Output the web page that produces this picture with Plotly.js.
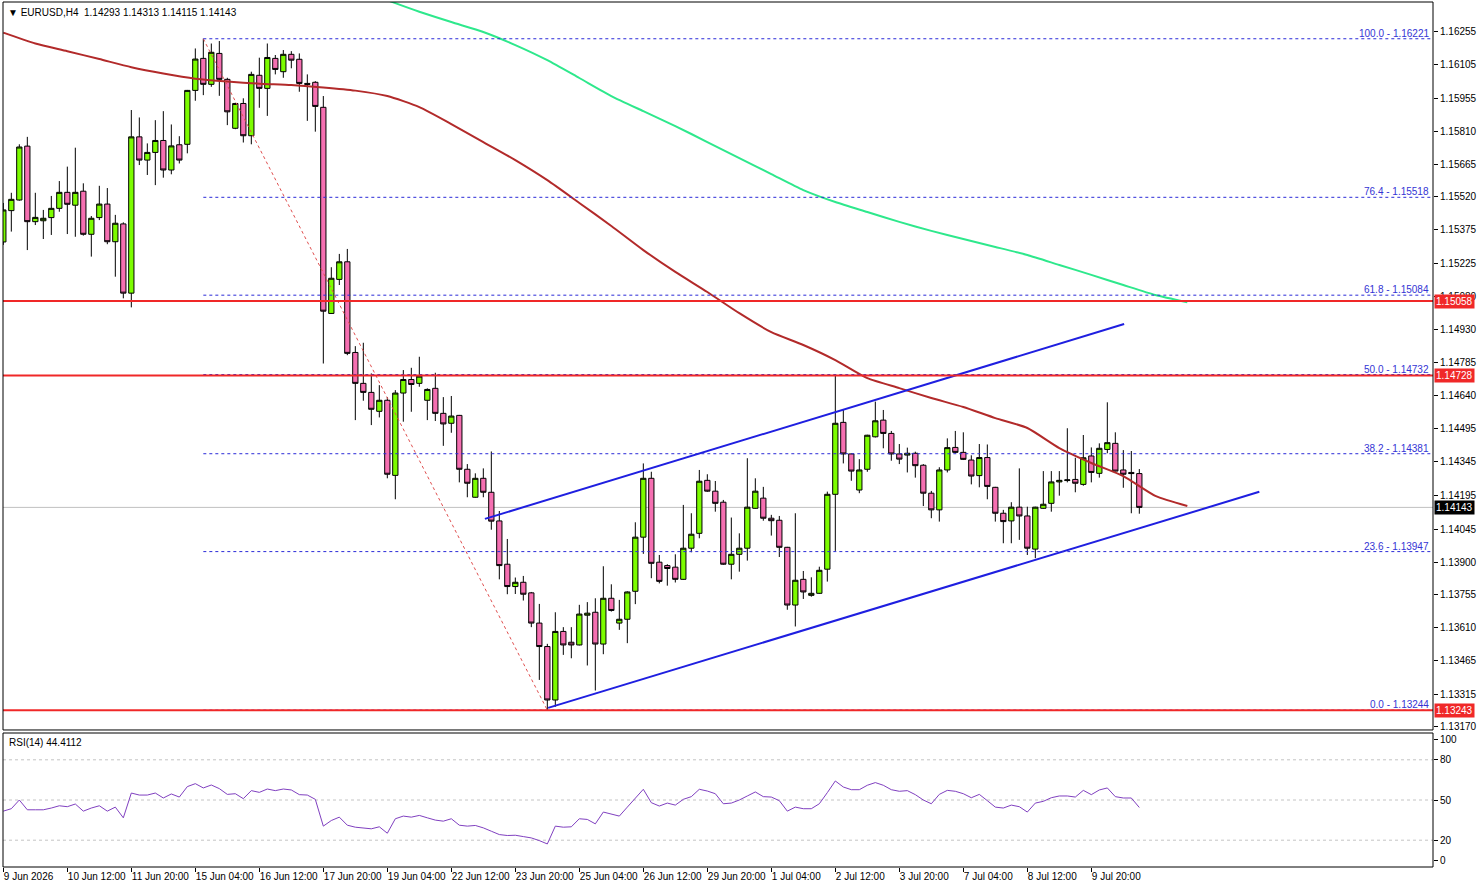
<!DOCTYPE html>
<html><head><meta charset="utf-8">
<script src="https://cdn.plot.ly/plotly-3.0.1.min.js"></script>
<style>html,body{margin:0;padding:0;background:#fff;}#chart{width:1479px;height:888px;}</style>
</head><body><div id="chart"></div>
<script>
// ---------- DATA ----------
const symbolName = "EURUSD,H4";
const lastBarOHLC = ["1.14293", "1.14313", "1.14115", "1.14143"];
const rsiName = "RSI(14)";
const rsiLast = "44.4112";

const timeLabels = ["9 Jun 2026","10 Jun 12:00","11 Jun 20:00","15 Jun 04:00","16 Jun 12:00","17 Jun 20:00",
  "19 Jun 04:00","22 Jun 12:00","23 Jun 20:00","25 Jun 04:00","26 Jun 12:00","29 Jun 20:00",
  "1 Jul 04:00","2 Jul 12:00","3 Jul 20:00","7 Jul 04:00","8 Jul 12:00","9 Jul 20:00"];

const priceTickLabels = ["1.16255","1.16105","1.15955","1.15810","1.15665","1.15520","1.15375","1.15225",
  "1.15080","1.14930","1.14785","1.14640","1.14495","1.14345","1.14195","1.14045","1.13900","1.13755",
  "1.13610","1.13465","1.13315","1.13170"];

const rsiTickLabels = ["0","20","50","80","100"];
const rsiLevels = [20, 50, 80];

const open = [
1.15320,1.15459,1.15506,1.15745,1.15410,1.15414,1.15428,1.15469,1.15540,1.15483,
1.15545,1.15354,1.15428,1.15488,1.15321,1.15400,1.15093,1.15786,1.15683,1.15717,
1.15770,1.15639,1.15751,1.15753,1.15992,1.16134,1.16019,1.16156,1.16041,1.15824,
1.15934,1.15791,1.16059,1.16001,1.16134,1.16075,1.16152,1.16130,1.16023,1.16028,
1.15917,1.15003,1.15154,1.15232,1.14830,1.14693,1.14653,1.14569,1.14618,1.14285,
1.14650,1.14710,1.14693,1.14618,1.14671,1.14560,1.14516,1.14551,1.14312,1.14188,
1.14272,1.14210,1.14083,1.13891,1.13792,1.13811,1.13764,1.13630,1.13526,1.13289,
1.13593,1.13545,1.13533,1.13665,1.13678,1.13537,1.13740,1.13630,1.13647,1.13771,
1.14011,1.14272,1.13900,1.13885,1.13878,1.13824,1.13962,1.14028,1.14263,1.14215,
1.14166,1.13891,1.13935,1.13962,1.14139,1.14184,1.14095,1.14086,1.13966,1.13710,
1.13824,1.13753,1.13762,1.13869,1.14201,1.14520,1.14380,1.14220,1.14312,1.14456,
1.14530,1.14471,1.14380,1.14375,1.14383,1.14330,1.14206,1.14132,1.14309,1.14409,
1.14387,1.14353,1.14284,1.14364,1.14232,1.14117,1.14083,1.14144,1.14105,1.13958,
1.14139,1.14161,1.14256,1.14262,1.14267,1.14245,1.14371,1.14294,1.14400,1.14427,
1.14309,1.14298,1.14293];

const high = [
1.15493,1.15538,1.15753,1.15786,1.15538,1.15462,1.15524,1.15590,1.15654,1.15738,
1.15580,1.15435,1.15569,1.15559,1.15440,1.15407,1.15905,1.15872,1.15757,1.15860,
1.15900,1.15841,1.15789,1.15994,1.16178,1.16221,1.16200,1.16211,1.16048,1.15937,
1.15957,1.16075,1.16137,1.16200,1.16149,1.16171,1.16166,1.16156,1.16063,1.16033,
1.15967,1.15208,1.15267,1.15289,1.14858,1.14873,1.14737,1.14685,1.14632,1.14663,
1.14752,1.14762,1.14811,1.14671,1.14740,1.14632,1.14637,1.14553,1.14335,1.14294,
1.14316,1.14391,1.14127,1.14003,1.13832,1.13839,1.13768,1.13715,1.13538,1.13678,
1.13612,1.13612,1.13711,1.13723,1.13740,1.13882,1.13802,1.13733,1.13771,1.14077,
1.14338,1.14301,1.13932,1.13891,1.13935,1.14154,1.14117,1.14309,1.14290,1.14260,
1.14176,1.14098,1.14028,1.14361,1.14272,1.14234,1.14110,1.14105,1.13968,1.14117,
1.13861,1.13833,1.13880,1.14213,1.14730,1.14575,1.14382,1.14357,1.14465,1.14612,
1.14575,1.14482,1.14424,1.14408,1.14390,1.14335,1.14216,1.14321,1.14449,1.14482,
1.14476,1.14374,1.14424,1.14422,1.14234,1.14132,1.14166,1.14316,1.14146,1.14146,
1.14304,1.14304,1.14304,1.14494,1.14363,1.14464,1.14409,1.14427,1.14609,1.14476,
1.14397,1.14393,1.14313];

const low = [
1.15307,1.15366,1.15503,1.15284,1.15395,1.15333,1.15351,1.15454,1.15355,1.15343,
1.15348,1.15255,1.15417,1.15310,1.15166,1.15070,1.15030,1.15661,1.15617,1.15572,
1.15605,1.15620,1.15668,1.15713,1.15946,1.15971,1.16008,1.15968,1.15838,1.15820,
1.15761,1.15753,1.15915,1.15879,1.16063,1.16048,1.16090,1.15986,1.15857,1.15809,
1.14781,1.15001,1.15129,1.14818,1.14530,1.14616,1.14508,1.14542,1.14272,1.14179,
1.14523,1.14567,1.14678,1.14530,1.14526,1.14416,1.14474,1.14254,1.14188,1.14186,
1.14188,1.14044,1.13824,1.13758,1.13759,1.13730,1.13612,1.13378,1.13244,1.13259,
1.13489,1.13474,1.13531,1.13442,1.13331,1.13492,1.13681,1.13600,1.13541,1.13714,
1.13937,1.13829,1.13806,1.13796,1.13810,1.13822,1.13944,1.14006,1.14212,1.14124,
1.13888,1.13824,1.13858,1.13907,1.14137,1.14084,1.14018,1.13923,1.13689,1.13615,
1.13737,1.13747,1.13760,1.13814,1.13950,1.14338,1.14261,1.14206,1.14301,1.14453,
1.14405,1.14350,1.14335,1.14298,1.14275,1.14149,1.14095,1.14080,1.14298,1.14383,
1.14353,1.14245,1.14232,1.14179,1.14080,1.13984,1.13984,1.13999,1.13932,1.13918,
1.14137,1.14124,1.14195,1.14254,1.14210,1.14239,1.14254,1.14275,1.14383,1.14302,
1.14230,1.14117,1.14115];

const close = [
1.15462,1.15509,1.15741,1.15410,1.15429,1.15425,1.15469,1.15540,1.15487,1.15540,
1.15354,1.15425,1.15488,1.15321,1.15403,1.15093,1.15786,1.15683,1.15717,1.15770,
1.15639,1.15746,1.15683,1.15992,1.16131,1.16019,1.16161,1.16041,1.15897,1.15934,
1.15791,1.16063,1.16001,1.16138,1.16085,1.16152,1.16126,1.16023,1.16019,1.15921,
1.15013,1.15159,1.15232,1.14826,1.14693,1.14653,1.14578,1.14618,1.14290,1.14650,
1.14710,1.14688,1.14725,1.14666,1.14560,1.14513,1.14548,1.14312,1.14250,1.14272,
1.14210,1.14082,1.13885,1.13792,1.13811,1.13758,1.13630,1.13526,1.13289,1.13593,
1.13533,1.13533,1.13670,1.13674,1.13537,1.13740,1.13686,1.13647,1.13768,1.14011,
1.14272,1.13895,1.13815,1.13872,1.13824,1.13962,1.14024,1.14259,1.14215,1.14161,
1.13891,1.13935,1.13962,1.14144,1.14215,1.14095,1.14084,1.13966,1.13710,1.13820,
1.13768,1.13762,1.13864,1.14201,1.14516,1.14380,1.14304,1.14309,1.14463,1.14527,
1.14471,1.14380,1.14357,1.14383,1.14328,1.14206,1.14132,1.14309,1.14408,1.14387,
1.14356,1.14282,1.14364,1.14236,1.14117,1.14080,1.14144,1.14105,1.13962,1.14144,
1.14157,1.14256,1.14263,1.14265,1.14250,1.14363,1.14298,1.14405,1.14430,1.14304,
1.14290,1.14293,1.14143];

const rsi = [
41.7,43.5,50,42.7,42.7,42.7,44,45.7,45,47,
41.7,44,45.7,41.7,44.7,36.7,55.2,53.7,53.7,55.2,
51.5,54.5,52.2,60,62.2,59,61.2,58.5,54.2,54.7,
51,57,55.7,58.2,57,58.2,57.5,54,53.7,50.5,
30.5,34.7,37.2,31.2,29.7,29.2,28.5,30,25.2,36,
38,37.2,38.5,36.7,35,34.2,36,31.2,30.5,31,
29.2,26.7,24.2,23.5,23.7,22.7,21.7,19.7,17.2,30.5,
29.7,30,36,35.5,32.2,41,39.7,38,44.7,51.7,
58,48,45.5,47.7,46.2,50.5,52.5,58,56.7,54.7,
47.2,47.7,50,53,56,52.5,52.2,49.5,41.7,44.7,
43.5,43.5,47.2,55.5,64.2,59.7,57.7,57.7,61,63,
61,57.7,56.5,57,54,50,47.2,54.2,57.2,56.5,
54.7,51.7,54.2,49.5,44.7,44,46.2,45,41,47.7,
49,51.7,53,53,52.2,57.2,54,57.5,59,52.5,
51.5,51.5,44.4112];

// moving averages (at these bar numbers)
const maRedBars = [0,4,8,12,16,20,24,28,32,36,40,44,48,52,56,60,64,68,72,76,80,84,88,92,96,100,104,108,112,116,120,124,128,132,136,140,144,148];
const maRedValues = [1.16248,1.16200,1.16166,1.16131,1.16095,1.16067,1.16044,1.16031,1.16022,1.16016,1.16005,1.15991,1.15967,1.15918,1.15843,1.15763,1.15683,1.15594,1.15493,1.15391,1.15284,1.15187,1.15098,1.15004,1.14920,1.14863,1.14796,1.14716,1.14672,1.14628,1.14588,1.14539,1.14495,1.14406,1.14340,1.14282,1.14194,1.14149];
const maGreenBars = [46,49,52,56,60,64,68,72,76,80,84,88,92,96,100,104,108,112,116,120,124,128,132,136,140,144,148];
const maGreenValues = [1.16419,1.16379,1.16341,1.16295,1.16251,1.16193,1.16126,1.16047,1.15967,1.15900,1.15834,1.15763,1.15692,1.15621,1.15550,1.15497,1.15453,1.15409,1.15369,1.15333,1.15298,1.15262,1.15218,1.15174,1.15129,1.15085,1.15053];

// fibonacci retracement
const fibPct = ["100.0","76.4","61.8","50.0","38.2","23.6","0.0"];
const fibPrice = [1.16221,1.15518,1.15084,1.14732,1.14381,1.13947,1.13244];
const fibBars = [25, 68];

// horizontal levels & current price
const levelPrices = [1.15058, 1.14728, 1.13243];
const currentPrice = 1.14143;

// trend lines
const upperLineBars = [60.2, 140.1];
const upperLinePrices = [1.14092, 1.14956];
const lowerLineBars = [68.1, 157.0];
const lowerLinePrices = [1.13254, 1.14212];

// ---------- CHART ----------
const bars = open.map((_, i) => i);
const xMin = -0.04, xMax = 178.71;
const FONT = "Liberation Sans, Arial, DejaVu Sans, sans-serif";

const traces = [
  {type:'candlestick', x:bars, open:open, high:high, low:low, close:close,
   xaxis:'x', yaxis:'y', hoverinfo:'none', whiskerwidth:0,
   increasing:{fillcolor:'#7cfc00', line:{color:'#000', width:1}},
   decreasing:{fillcolor:'#f56fb1', line:{color:'#000', width:1}}},
  {type:'scatter', mode:'lines', x:maRedBars, y:maRedValues, xaxis:'x', yaxis:'y',
   line:{color:'#b22a2a', width:2, shape:'spline', smoothing:0.6}, hoverinfo:'none'},
  {type:'scatter', mode:'lines', x:maGreenBars, y:maGreenValues, xaxis:'x', yaxis:'y',
   line:{color:'#2ee88c', width:2, shape:'spline', smoothing:0.6}, hoverinfo:'none'},
  {type:'scatter', mode:'lines', x:upperLineBars, y:upperLinePrices, xaxis:'x', yaxis:'y',
   line:{color:'#1f1fe0', width:2}, hoverinfo:'none'},
  {type:'scatter', mode:'lines', x:lowerLineBars, y:lowerLinePrices, xaxis:'x', yaxis:'y',
   line:{color:'#1f1fe0', width:2}, hoverinfo:'none'},
  {type:'scatter', mode:'lines', x:fibBars, y:[fibPrice[0], fibPrice[fibPrice.length-1]], xaxis:'x', yaxis:'y',
   line:{color:'#e05050', width:1, dash:'dot'}, hoverinfo:'none'},
  {type:'scatter', mode:'lines', x:bars, y:rsi, xaxis:'x', yaxis:'y2',
   line:{color:'#8040c0', width:1}, hoverinfo:'none'}
];

const shapes = [];
// current price line
shapes.push({type:'line', xref:'paper', x0:0, x1:1, yref:'y', y0:currentPrice, y1:currentPrice,
  line:{color:'#c0c0c0', width:1}, layer:'below'});
// fib levels
fibPrice.forEach(p => shapes.push({type:'line', xref:'x', x0:fibBars[0], x1:xMax, yref:'y', y0:p, y1:p,
  line:{color:'#2a2ad8', width:1, dash:'3px,3px'}}));
// red levels
levelPrices.forEach(p => shapes.push({type:'line', xref:'paper', x0:0, x1:1, yref:'y', y0:p, y1:p,
  line:{color:'#f02828', width:2}}));
// rsi levels
rsiLevels.forEach(v => shapes.push({type:'line', xref:'paper', x0:0, x1:1, yref:'y2', y0:v, y1:v,
  line:{color:'#c4c4c4', width:1, dash:'3px,3px'}, layer:'below'}));
// pane borders
shapes.push({type:'rect', xref:'paper', x0:0, x1:1, yref:'y domain', y0:0, y1:1, line:{color:'#000', width:1}, fillcolor:'rgba(0,0,0,0)'});
shapes.push({type:'rect', xref:'paper', x0:0, x1:1, yref:'y2 domain', y0:0, y1:1, line:{color:'#000', width:1}, fillcolor:'rgba(0,0,0,0)'});

const annotations = [];
annotations.push({xref:'paper', yref:'paper', x:0, y:1, xanchor:'left', yanchor:'top', xshift:3, yshift:-3,
  text:'▼ ' + symbolName + '  ' + lastBarOHLC.join(' '), showarrow:false, font:{family:FONT, size:10, color:'#000'}});
annotations.push({xref:'paper', yref:'y2 domain', x:0, y:1, xanchor:'left', yanchor:'top', xshift:4, yshift:-2,
  text:rsiName + ' ' + rsiLast, showarrow:false, font:{family:FONT, size:10, color:'#000'}});
fibPct.forEach((t, i) => annotations.push({xref:'paper', yref:'y', x:1, y:fibPrice[i], xanchor:'right', yanchor:'bottom',
  xshift:-2, yshift:-2, text:t + ' - ' + fibPrice[i].toFixed(5), showarrow:false, font:{family:FONT, size:10, color:'#3434d4'}}));
levelPrices.forEach(p => annotations.push({xref:'paper', yref:'y', x:1, y:p, xanchor:'left', yanchor:'middle', xshift:1,
  text:p.toFixed(5), showarrow:false, bgcolor:'#f02828', borderpad:1, font:{family:FONT, size:10, color:'#fff'}}));
annotations.push({xref:'paper', yref:'y', x:1, y:currentPrice, xanchor:'left', yanchor:'middle', xshift:1,
  text:currentPrice.toFixed(5), showarrow:false, bgcolor:'#000', borderpad:1, font:{family:FONT, size:10, color:'#fff'}});

const layout = {
  width:1479, height:888,
  margin:{l:3, r:46, t:2, b:21},
  paper_bgcolor:'#fff', plot_bgcolor:'#fff',
  showlegend:false,
  boxgap:0.34, boxgroupgap:0,
  font:{family:FONT, size:10, color:'#000'},
  xaxis:{type:'linear', range:[xMin, xMax], anchor:'y2', showgrid:false, zeroline:false, showline:false,
    rangeslider:{visible:false}, fixedrange:true, automargin:false,
    tickmode:'array', tickvals:timeLabels.map((_, i) => i*8), ticktext:timeLabels, tickangle:0,
    ticks:'outside', ticklen:4, tickcolor:'#000', tickwidth:1,
    ticklabelposition:'outside right', tickfont:{family:FONT, size:10, color:'#000'}},
  yaxis:{domain:[0.1584, 1], range:[1.13156, 1.16384], side:'right', anchor:'x', showgrid:false, zeroline:false,
    showline:false, fixedrange:true, automargin:false,
    tickmode:'array', tickvals:priceTickLabels.map(Number), ticktext:priceTickLabels,
    ticks:'outside', ticklen:4, tickcolor:'#000', tickfont:{family:FONT, size:10, color:'#000'}},
  yaxis2:{domain:[0, 0.1549], range:[0, 100], side:'right', anchor:'x', showgrid:false, zeroline:false,
    showline:false, fixedrange:true, automargin:false,
    tickmode:'array', tickvals:[4.7, 20, 50, 80, 95], ticktext:rsiTickLabels,
    ticks:'outside', ticklen:4, tickcolor:'#000', tickfont:{family:FONT, size:10, color:'#000'}},
  shapes:shapes,
  annotations:annotations
};

Plotly.newPlot('chart', traces, layout, {staticPlot:true, displayModeBar:false});
</script>
</body></html>
